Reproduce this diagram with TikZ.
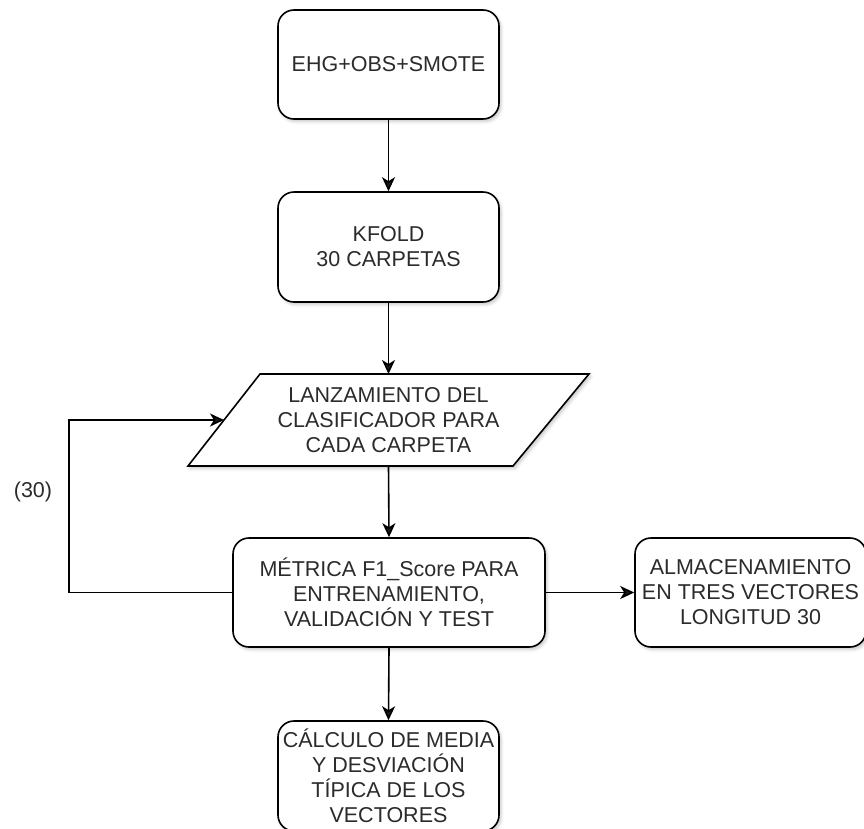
\documentclass[tikz,border=0pt]{standalone}
\usepackage{fontspec}
\setmainfont{Liberation Sans}
\usetikzlibrary{arrows.meta,shadows.blur}
\definecolor{ink}{HTML}{2B2B2B}
\begin{document}
\begin{tikzpicture}[x=1pt,y=-1pt,
  every node/.style={font=\fontsize{21.5}{25}\selectfont, text=ink},
  shadowed/.style={blur shadow={shadow xshift=2pt,shadow yshift=-2.5pt,shadow blur radius=3pt,shadow opacity=22}},
  outline/.style={draw=black, line width=1.6pt},
  stepbox/.style={outline, rounded corners=16pt, fill=white, align=center, inner sep=0pt, shadowed},
  link/.style={line width=1.6pt, -{Stealth[length=14pt,width=13pt,inset=4pt]}},
]
\useasboundingbox (0,0) rectangle (864,828);

% process boxes
\node[stepbox, minimum width=221pt, minimum height=109pt] (ehg) at (388.5,64.5) {EHG+OBS+SMOTE};
\node[stepbox, minimum width=221pt, minimum height=110pt] (kfold) at (388.5,247) {KFOLD\\30 CARPETAS};

% input/output parallelogram
\coordinate (pa) at (260,374);
\coordinate (pb) at (589,374);
\coordinate (pc) at (513,466);
\coordinate (pd) at (188,466);
\draw[outline, fill=white, shadowed] (pa) -- (pb) -- (pc) -- (pd) -- cycle;
\node[align=center] (lanz) at (388.5,420) {LANZAMIENTO DEL\\CLASIFICADOR PARA\\CADA CARPETA};
\coordinate (lanzN) at (388.5,374);
\coordinate (lanzS) at (388.5,466);
\coordinate (lanzW) at (224,420);

\node[stepbox, minimum width=312pt, minimum height=109pt] (metr) at (389,592.5)
  {MÉTRICA F1\_Score PARA\\ENTRENAMIENTO,\\VALIDACIÓN Y TEST};
\node[stepbox, minimum width=231pt, minimum height=109pt] (alm) at (750.5,592.5)
  {ALMACENAMIENTO\\EN TRES VECTORES\\LONGITUD 30};
\node[stepbox, minimum width=221pt, minimum height=110pt] (calc) at (388.5,776)
  {CÁLCULO DE MEDIA\\Y DESVIACIÓN\\TÍPICA DE LOS\\VECTORES};

% repetition loop
\coordinate (loopx) at (69,0);
\node (reps) at (33,492) {(30)};

% connectors
\draw[link] (ehg.south) -- (kfold.north);
\draw[link] (kfold.south) -- (lanzN);
\draw[link] (lanzS) -- (metr.north);
\draw[link] (metr.east) -- (alm.west);
\draw[link] (metr.south) -- (calc.north);
\draw[link] (metr.west) -- (metr.west -| loopx) |- (lanzW);
\end{tikzpicture}
\end{document}
